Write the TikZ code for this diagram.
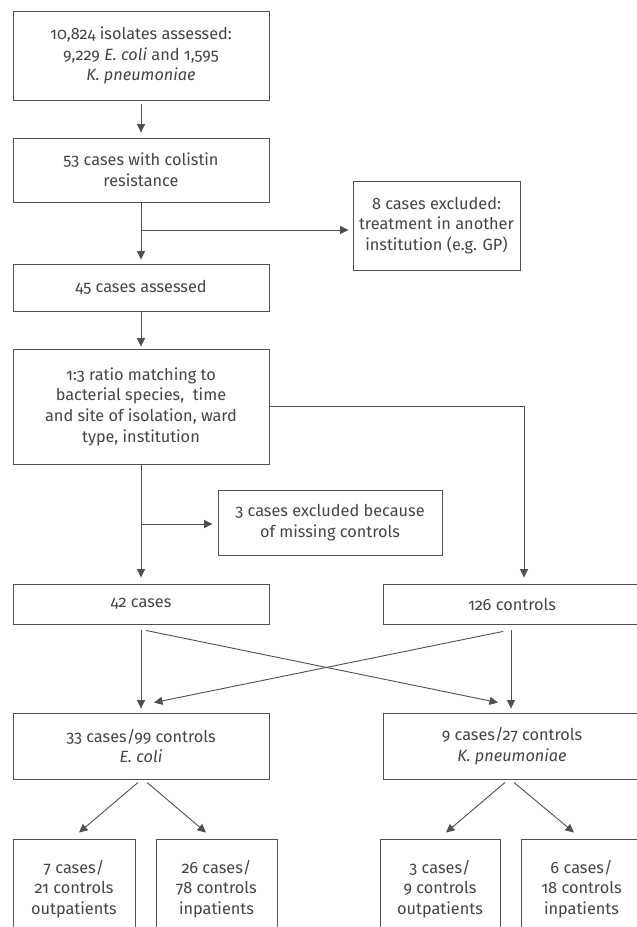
\documentclass[tikz,border=0pt]{standalone}
\usepackage{fontspec}
\setmainfont{Fira Sans}[Numbers=OldStyle]
\usepackage{xcolor}
\definecolor{linegray}{RGB}{80,80,80}
\definecolor{textgray}{RGB}{68,68,68}
\usepackage{tikz}
\usetikzlibrary{
  arrows.meta,
  positioning,
  calc
}

\begin{document}
\begin{tikzpicture}[x=1pt, y=-1pt,
  box/.style={draw=linegray, line width=0.9pt, align=center, inner sep=0pt,
    text=textgray, font=\fontsize{16.3}{20.7}\selectfont},
  arr/.style={draw=linegray, line width=0.9pt, -{Triangle[length=8.5pt,width=8pt]}},
  link/.style={draw=linegray, line width=0.9pt}]
  \useasboundingbox (0,0) rectangle (637,927);

  % main column
  \node[box, minimum width=256pt, minimum height=89pt] (isolates) at (141,55.5)
    {10,824 isolates assessed:\\9,229 \textit{E. coli} and 1,595\\\textit{K. pneumoniae}};
  \node[box, minimum width=256pt, minimum height=64pt] (colistin) at (141,170)
    {53 cases with colistin\\resistance};
  \node[box, minimum width=167pt, minimum height=89pt] (exclother) at (436.5,225.5)
    {8 cases excluded:\\treatment in another\\institution (e.g. GP)};
  \node[box, minimum width=256pt, minimum height=47pt] (assessed) at (141,287.5)
    {45 cases assessed};
  \node[box, minimum width=256pt, minimum height=115pt] (matching) at (141,406.5)
    {1:3 ratio matching to\\bacterial species,\ \ time\\and site of isolation, ward\\type, institution};
  \node[box, minimum width=224pt, minimum height=65pt] (exclmissing) at (330,522.5)
    {3 cases excluded because\\of missing controls};

  % cases and controls
  \node[box, minimum width=256pt, minimum height=40pt] (cases42) at (141,604) {42 cases};
  \node[box, minimum width=258pt, minimum height=40pt] (controls126) at (512,604) {126 controls};

  % species
  \node[box, minimum width=256pt, minimum height=66pt] (ecoli) at (141,746)
    {33 cases/99 controls\\\textit{E. coli}};
  \node[box, minimum width=258pt, minimum height=66pt] (kpneu) at (512,746)
    {9 cases/27 controls\\\textit{K. pneumoniae}};

  % setting
  \node[box, minimum width=122pt, minimum height=100pt] (out7) at (74,889)
    {7 cases/\\21 controls\\outpatients};
  \node[box, minimum width=121pt, minimum height=100pt] (in26) at (216.5,889)
    {26 cases/\\78 controls\\inpatients};
  \node[box, minimum width=120pt, minimum height=100pt] (out3) at (440,889)
    {3 cases/\\9 controls\\outpatients};
  \node[box, minimum width=121pt, minimum height=100pt] (in6) at (581.5,889)
    {6 cases/\\18 controls\\inpatients};

  % connectors, top part
  \draw[arr, shorten <=4pt, shorten >=5pt] (isolates.south) -- (colistin.north);
  \draw[arr, shorten >=4pt] (colistin.south) -- (assessed.north);
  \coordinate (br1) at (141,230);
  \draw[arr, shorten >=4pt] (br1) -- (br1 -| exclother.west);
  \draw[arr, shorten >=2pt] (assessed.south) -- (matching.north);
  \draw[arr, shorten >=6pt] (matching.east) -| ([xshift=12pt]controls126.north);
  \draw[arr, shorten >=6pt] (matching.south) -- (cases42.north);
  \coordinate (br2) at (141,524);
  \draw[arr, shorten >=5pt] (br2) -- (br2 -| exclmissing.west);

  % connectors, crossing
  \draw[arr, shorten <=6pt, shorten >=4pt] (cases42.south) -- (ecoli.north);
  \draw[arr, shorten <=6pt, shorten >=4pt] ([xshift=-1pt]controls126.south) -- ([xshift=-1pt]kpneu.north);
  \draw[arr] ([shift={(5,6)}]cases42.south) -- ([shift={(-14,-10)}]kpneu.north);
  \draw[arr] ([shift={(-9,7)}]controls126.south) -- ([shift={(13,-10)}]ecoli.north);

  % connectors, bottom
  \draw[arr] ([shift={(-3,3)}]ecoli.south) -- ([shift={(5,-6)}]out7.north);
  \draw[arr] ([shift={(6,3)}]ecoli.south) -- ([shift={(-10.5,-6)}]in26.north);
  \draw[arr] ([shift={(-7,3)}]kpneu.south) -- ([shift={(6,-6)}]out3.north);
  \draw[arr] ([shift={(2,3)}]kpneu.south) -- ([shift={(-7.5,-6)}]in6.north);
\end{tikzpicture}
\end{document}
